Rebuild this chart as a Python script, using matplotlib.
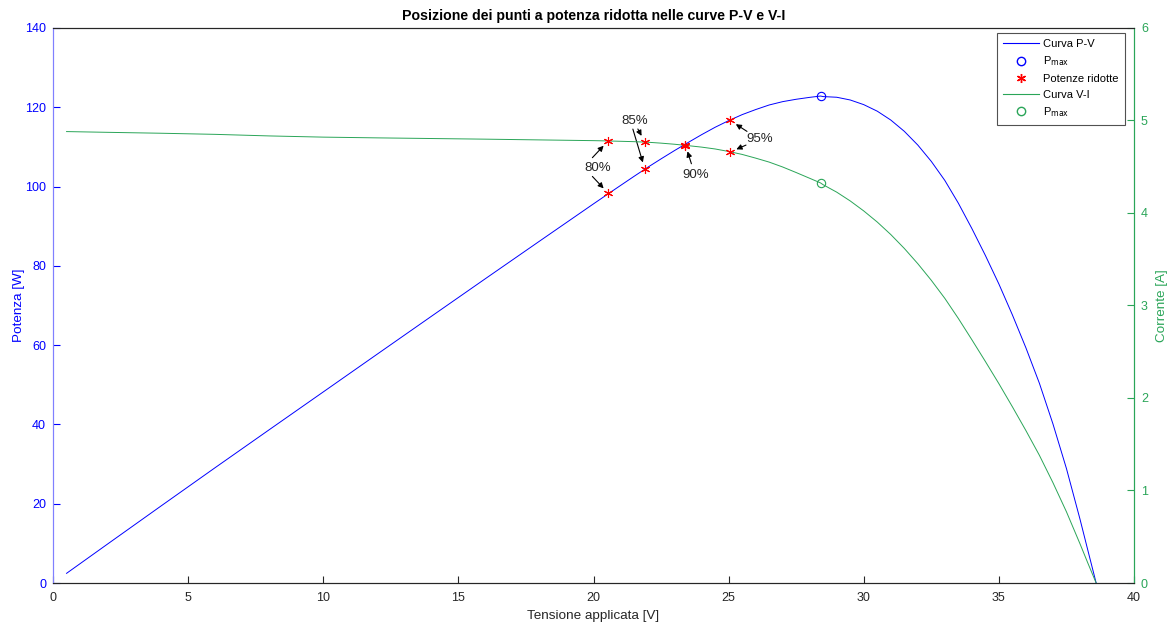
import numpy as np
import matplotlib
matplotlib.use("Agg")
import matplotlib.pyplot as plt
from matplotlib.lines import Line2D

plt.rcParams['font.family'] = ['Liberation Sans', 'DejaVu Sans']
plt.rcParams['font.size'] = 9

# Curva V-I del modulo (tensione [V], corrente [A])
tensione = [0.5, 2, 4, 6, 8, 10, 12, 14, 16, 18,
            20, 20.5, 21, 21.5, 22, 22.5, 23, 23.5, 24, 24.5,
            25, 25.5, 26, 26.5, 27, 27.5, 28, 28.4, 28.5, 29,
            29.5, 30, 30.5, 31, 31.5, 32, 32.5, 33, 33.5, 34,
            34.5, 35, 35.5, 36, 36.5, 37, 37.5, 38, 38.3, 38.6]
corrente = [4.880, 4.872, 4.862, 4.850, 4.833, 4.820, 4.812, 4.805, 4.798, 4.790,
            4.782, 4.779, 4.775, 4.771, 4.765, 4.755, 4.743, 4.728, 4.712, 4.692,
            4.665, 4.633, 4.593, 4.550, 4.497, 4.437, 4.375, 4.325, 4.305, 4.225,
            4.130, 4.022, 3.902, 3.767, 3.617, 3.452, 3.272, 3.077, 2.860, 2.630,
            2.395, 2.155, 1.905, 1.648, 1.380, 1.085, 0.770, 0.425, 0.210, 0.0]

# Punti a potenza ridotta (percentuale di Pmax) e relative tensioni
percentuali = [80, 85, 90, 95]
tensioni_ridotte = [20.55, 21.9, 23.4, 25.05]

V = np.array(tensione)
I = np.array(corrente)
P = V * I
k = np.argmax(P)
Vmax, Imax, Pmax = V[k], I[k], P[k]

Vr = np.array(tensioni_ridotte)
Pr = np.array(percentuali) / 100 * Pmax
Ir = Pr / Vr

BLU = '#0000FF'
VERDE = '#2AA558'
GRIGIO = '#262626'

fig = plt.figure(figsize=(11.71, 6.23), dpi=100)
ax = fig.add_axes([0.0453, 0.0642, 0.9231, 0.8909])
ax2 = ax.twinx()

ax.plot(V, P, color=BLU, lw=0.7)
ax.plot(Vmax, Pmax, 'o', mfc='none', mec=BLU, ms=6, mew=0.8)
ax.plot(Vr, Pr, ls='none', marker=(6, 2, 0), color='red', ms=6.5, mew=0.8)

ax2.plot(V, I, color=VERDE, lw=0.7)
ax2.plot(Vmax, Imax, 'o', mfc='none', mec=VERDE, ms=6, mew=0.8)
ax2.plot(Vr, Ir, ls='none', marker=(6, 2, 0), color='red', ms=6.5, mew=0.8)

ax.set_xlim(0, 40)
ax.set_ylim(0, 140)
ax2.set_ylim(0, 6)
ax.set_xticks(range(0, 41, 5))
ax.set_yticks(range(0, 141, 20))
ax2.set_yticks(range(0, 7))

ax.tick_params(axis='x', direction='in', length=5, colors=GRIGIO, labelsize=9, pad=6.5, top=False)
ax.tick_params(axis='y', direction='in', length=5, colors=BLU, labelsize=9, pad=5)
ax2.tick_params(axis='y', direction='in', length=5, colors=VERDE, labelsize=9, pad=5)
for a in (ax, ax2):
    a.spines['top'].set_color(GRIGIO)
    a.spines['bottom'].set_color(GRIGIO)
    a.spines['left'].set_color('#8080FF')
    a.spines['right'].set_color(VERDE)
    for s in a.spines.values():
        s.set_linewidth(0.8)

ax.set_xlabel('Tensione applicata [V]', color=GRIGIO, fontsize=9.7, labelpad=4.5)
ax.set_ylabel('Potenza [W]', color=BLU, fontsize=9.7, labelpad=0)
ax2.set_ylabel('Corrente [A]', color=VERDE, fontsize=9.7, labelpad=6)
ax.set_title('Posizione dei punti a potenza ridotta nelle curve P-V e V-I',
             fontsize=10.2, fontweight='bold', color='black', pad=6)

# Etichette e frecce verso i punti ridotti (offset in pixel dal punto)
freccia = dict(arrowstyle='-|>', color='black', lw=0.8, mutation_scale=8,
               shrinkA=0, shrinkB=5)
frecce = [
    # (indice, curva, offset inizio freccia)
    (0, 'I', (-16, -17)), (0, 'P', (-16, 17)),
    (1, 'I', (-7, 13)), (1, 'P', (-12, 40)),
    (2, 'P', (6, -19)),
    (3, 'P', (17, -11)), (3, 'I', (16, 7)),
]
for i, curva, off in frecce:
    if curva == 'P':
        ax.annotate('', xy=(Vr[i], Pr[i]), xytext=off, textcoords='offset pixels',
                    arrowprops=freccia)
    else:
        ax2.annotate('', xy=(Vr[i], Ir[i]), xytext=off, textcoords='offset pixels',
                     arrowprops=freccia)

etichette = [(0, ax, (-11, 25)), (1, ax, (-10, 48)), (2, ax, (10, -30)), (3, ax2, (30, 13))]
for i, a, off in etichette:
    y = Pr[i] if a is ax else Ir[i]
    a.annotate(f'{percentuali[i]}%', xy=(Vr[i], y), xytext=off, textcoords='offset pixels',
               ha='center', va='center', fontsize=9.5, color=GRIGIO)

maniglie = [
    Line2D([], [], color=BLU, lw=0.8),
    Line2D([], [], ls='none', marker='o', mfc='none', mec=BLU, ms=6),
    Line2D([], [], ls='none', marker=(6, 2, 0), color='red', ms=6.5),
    Line2D([], [], color=VERDE, lw=0.8),
    Line2D([], [], ls='none', marker='o', mfc='none', mec=VERDE, ms=6),
]
nomi = ['Curva P-V', 'P$_{\\mathrm{max}}$', 'Potenze ridotte', 'Curva V-I', 'P$_{\\mathrm{max}}$']
leg = ax2.legend(maniglie, nomi, loc='upper right', fontsize=8, frameon=True,
                 fancybox=False, edgecolor=GRIGIO, handlelength=3.2, handletextpad=0.4,
                 labelspacing=0.5, borderpad=0.55, borderaxespad=0,
                 bbox_to_anchor=(0.9917, 0.991))
leg.get_frame().set_linewidth(0.8)

fig.savefig('out.png', dpi=100)
